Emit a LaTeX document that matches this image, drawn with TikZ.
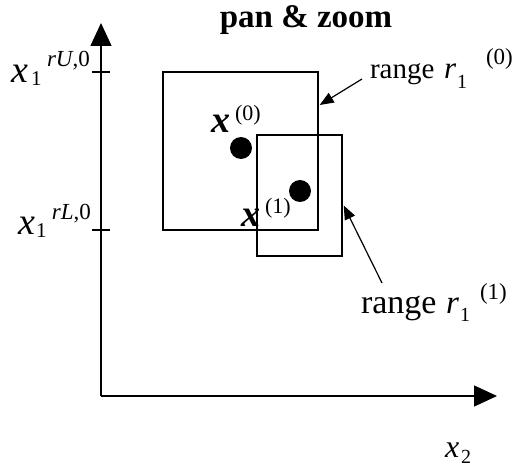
\documentclass[tikz,border=0pt]{standalone}
\usepackage{fontspec}
\setmainfont{Liberation Serif}
\usetikzlibrary{arrows.meta}
\newcommand{\fs}[1]{\fontsize{#1}{#1}\selectfont}
\tikzset{
  lbl/.style={inner sep=0pt, outer sep=0pt, anchor=base west},
  axisline/.style={line width=1.5pt, -{Triangle[length=23pt,width=21pt]}},
  rangebox/.style={draw, line width=1.4pt, minimum width=#1, inner sep=0pt},
  dot/.style={circle, fill=black, minimum size=22pt, inner sep=0pt},
  pointer/.style={line width=1.2pt, -{Triangle[length=14pt,width=11pt]}},
  tickmark/.style={line width=1.3pt}
}
\begin{document}
\begin{tikzpicture}[x=1pt,y=-1pt]
\useasboundingbox (0,0) rectangle (515,468);
% title
\node[inner sep=0pt, anchor=base] (title) at (306,28) {\fs{33}\bfseries pan \& zoom};
% axes
\coordinate (O) at (101,396);
\coordinate (ytip) at (101,23);
\coordinate (xtip) at (497,396);
\draw[axisline] (O) -- (ytip);
\draw[axisline] (O) -- (xtip);
% ticks
\coordinate (tU) at (101,72);
\coordinate (tL) at (101,230);
\draw[tickmark] ([xshift=-9pt]tU) -- ([xshift=9pt]tU);
\draw[tickmark] ([xshift=-9pt]tL) -- ([xshift=9pt]tL);
% left labels
\node[lbl] (xU) at (12,83) {\fs{38}\itshape x};
\node[lbl] (xU1) at (31,86) {\fs{21}1};
\node[lbl] (xUs) at (47,67) {\fs{23}\textit{rU},0};
\node[lbl] (xL) at (18,235) {\fs{38}\itshape x};
\node[lbl] (xL1) at (36,238) {\fs{21}1};
\node[lbl] (xLs) at (52,220) {\fs{23}\textit{rL},0};
% boxes
\node[rangebox=155pt, minimum height=158pt] (box0) at (240.5,151) {};
\node[rangebox=85pt, minimum height=121pt] (box1) at (299.5,195.5) {};
% points
\node[dot] (p0) at (241,148) {};
\node[dot] (p1) at (300,191) {};
\node[lbl] (x0) at (211,133) {\fs{38}\bfseries\itshape x};
\node[lbl] (x0s) at (235,121) {\fs{22}(0)};
\node[lbl] (x1) at (241,227) {\fs{38}\bfseries\itshape x};
\node[lbl] (x1s) at (265,214) {\fs{22}(1)};
% range labels
\node[lbl] (r0) at (370,79) {\fs{29}range};
\node[lbl] (r0r) at (444,79) {\fs{31}\itshape r};
\node[lbl] (r0sub) at (457,89) {\fs{20}1};
\node[lbl] (r0sup) at (486,65) {\fs{23}(0)};
\node[lbl] (r1) at (361,314) {\fs{34}range};
\node[lbl] (r1r) at (446,314) {\fs{33}\itshape r};
\node[lbl] (r1sub) at (460,322) {\fs{20}1};
\node[lbl] (r1sup) at (480,300) {\fs{23}(1)};
% x2 label
\node[lbl] (x2) at (445,457) {\fs{32}\itshape x};
\node[lbl] (x2sub) at (461,464) {\fs{20}2};
% pointers
\coordinate (a0) at (362,79);
\coordinate (a1) at (382,283);
\draw[pointer] (a0) -- ([xshift=1pt,yshift=46pt]box0.east);
\draw[pointer] (a1) -- ([xshift=1pt,yshift=-10pt]box1.east);
\end{tikzpicture}
\end{document}
